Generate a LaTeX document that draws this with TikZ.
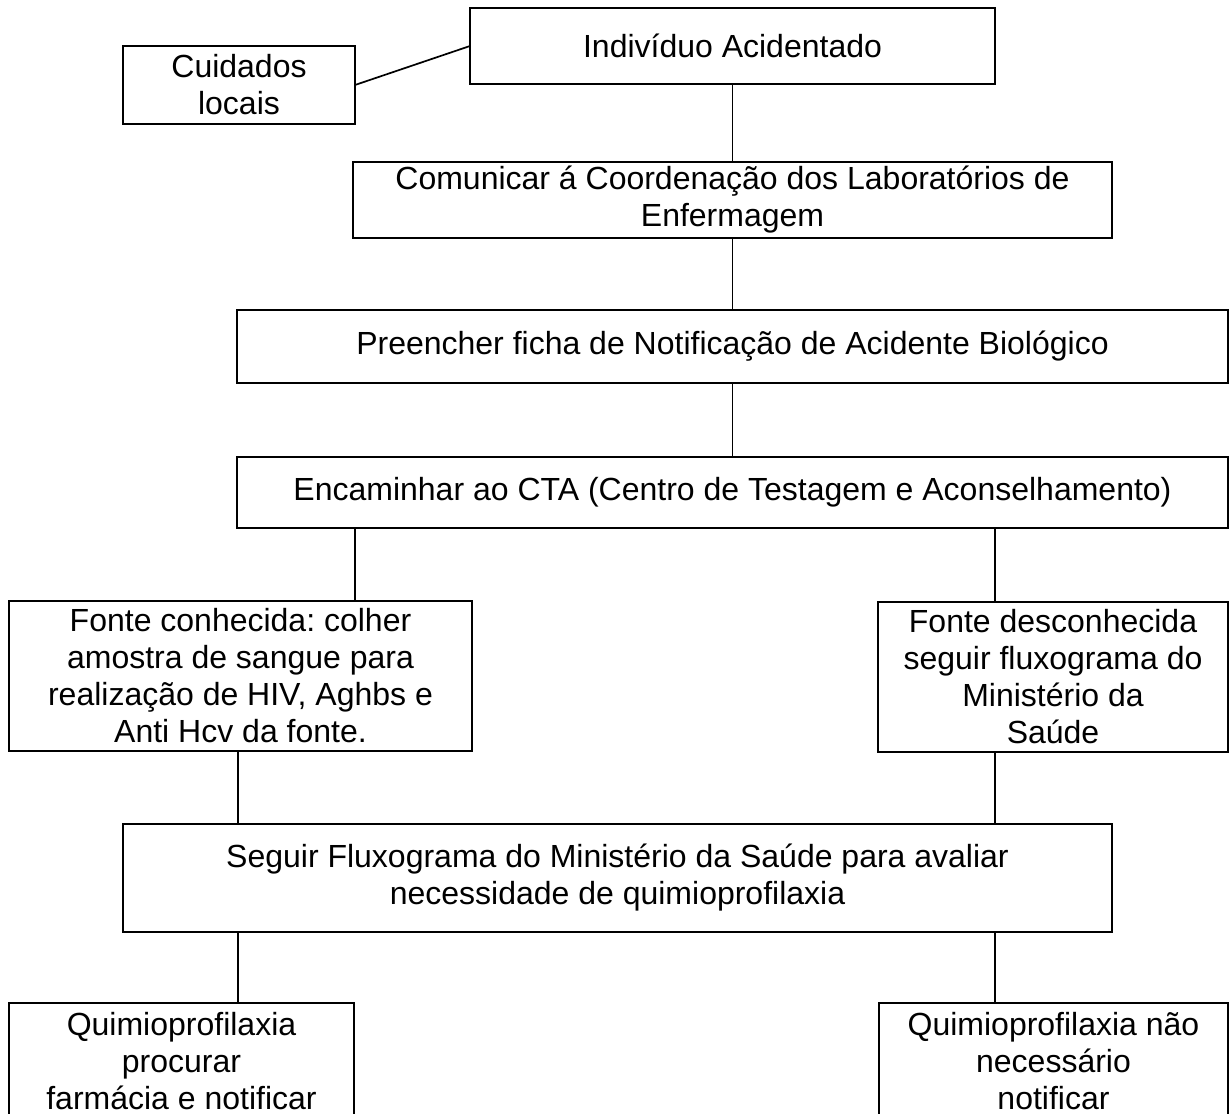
\documentclass[tikz,border=0pt]{standalone}
\usepackage{fontspec}
\setmainfont{Liberation Sans}
\frenchspacing
\begin{document}
\begin{tikzpicture}[x=1pt,y=-1pt,
  box/.style={draw,line width=2.9pt,rectangle,inner sep=0pt,outer sep=0pt,
    anchor=north west,align=center,font=\fontsize{32}{37}\selectfont},
  link/.style={line width=1.7pt}]
\clip (0,0) rectangle (1230,1113);
\fill[white] (0,0) rectangle (1230,1113);
% boxes
\node[box,minimum width=525pt,minimum height=76pt] (ind) at (470,8) {Indivíduo Acidentado};
\node[box,minimum width=232pt,minimum height=78pt] (cuid) at (123,46) {Cuidados\\locais};
\node[box,minimum width=759pt,minimum height=76pt] (com) at (353,162) {Comunicar á Coordenação dos Laboratórios de\\Enfermagem};
\node[box,minimum width=991pt,minimum height=73pt] (pre) at (237,310) {Preencher ficha de Notificação de Acidente Biológico};
\node[box,minimum width=991pt,minimum height=71pt] (enc) at (237,457) {Encaminhar ao CTA (Centro de Testagem e Aconselhamento)};
\node[box,minimum width=463pt,minimum height=150pt] (fk) at (9,601) {Fonte conhecida: colher\\amostra de sangue para\\realização de HIV, Aghbs e\\Anti Hcv da fonte.};
\node[box,minimum width=350pt,minimum height=150pt] (fd) at (878,602) {Fonte desconhecida\\seguir fluxograma do\\Ministério da\\Saúde};
\node[box,minimum width=989pt,minimum height=108pt] (seg) at (123,824) {Seguir Fluxograma do Ministério da Saúde para avaliar\\necessidade de quimioprofilaxia};
\node[box,minimum width=345pt,minimum height=116pt] (q1) at (9,1003) {Quimioprofilaxia\\procurar\\farmácia e notificar};
\node[box,minimum width=349pt,minimum height=116pt] (q2) at (879,1003) {Quimioprofilaxia não\\necessário\\notificar};
% connector x positions
\coordinate (xL) at (355,0);
\coordinate (xA) at (238,0);
\coordinate (xR) at (995,0);
% connectors
\draw[link] (cuid.east) -- (ind.west);
\draw[link] (ind.south) -- (com.north);
\draw[link] (com.south) -- (pre.north);
\draw[link] (pre.south) -- (enc.north);
\draw[link] (enc.south -| xL) -- (fk.north -| xL);
\draw[link] (enc.south -| xR) -- (fd.north -| xR);
\draw[link] (fk.south -| xA) -- (seg.north -| xA);
\draw[link] (fd.south -| xR) -- (seg.north -| xR);
\draw[link] (seg.south -| xA) -- (q1.north -| xA);
\draw[link] (seg.south -| xR) -- (q2.north -| xR);
\end{tikzpicture}
\end{document}
